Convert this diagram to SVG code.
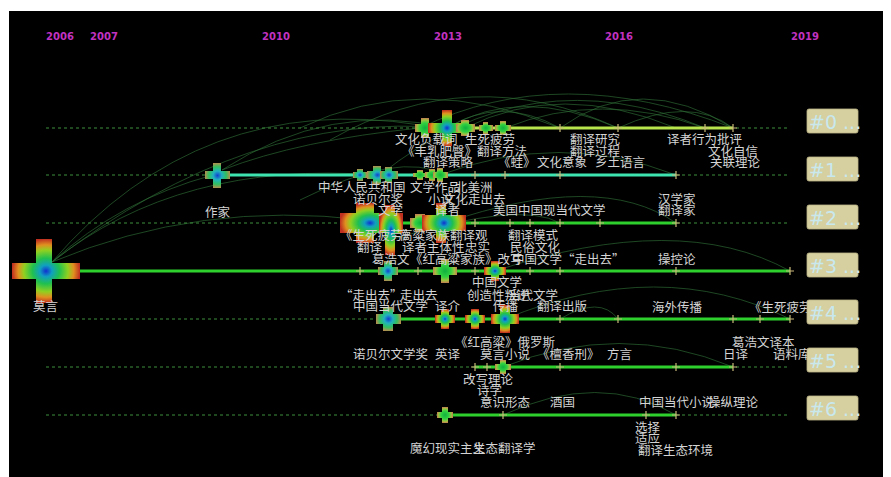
<svg xmlns="http://www.w3.org/2000/svg" width="891" height="477" viewBox="0 0 891 477">
<defs>
<radialGradient id="heat" cx="0.5" cy="0.5" r="0.5">
<stop offset="0" stop-color="#1030d0"/>
<stop offset="0.18" stop-color="#10a0c0"/>
<stop offset="0.4" stop-color="#20c050"/>
<stop offset="0.65" stop-color="#90d020"/>
<stop offset="0.82" stop-color="#e09020"/>
<stop offset="1" stop-color="#c03020"/>
</radialGradient>
<radialGradient id="heat2" cx="0.5" cy="0.5" r="0.5">
<stop offset="0" stop-color="#10b040"/>
<stop offset="0.5" stop-color="#30d040"/>
<stop offset="0.8" stop-color="#a0c040"/>
<stop offset="1" stop-color="#c08050"/>
</radialGradient>
<radialGradient id="heat3" cx="0.5" cy="0.5" r="0.5">
<stop offset="0" stop-color="#1040d0"/>
<stop offset="0.35" stop-color="#20b0c0"/>
<stop offset="0.7" stop-color="#30c060"/>
<stop offset="1" stop-color="#b09050"/>
</radialGradient>
<style>
.lb{font-family:"Noto Sans CJK SC","Noto Sans",sans-serif;font-size:12.5px;fill:#d4d4d4}
.yr{font-family:"DejaVu Sans",sans-serif;font-weight:bold;font-size:10px;fill:#c032c0}
.dash{stroke:#3f8f3f;stroke-width:1;stroke-dasharray:3 3;fill:none}
.arc{fill:none;stroke:#2c6a34;stroke-width:0.9;opacity:0.75}
.tk{stroke:#c8b878;stroke-width:1.2;fill:none}
.hx{fill:url(#heat)}
.gx{fill:url(#heat2)}
.bx{fill:url(#heat3)}
.box{fill:#d6cf9f;stroke:#bdb488;stroke-width:0.8}
.bt{font-family:"DejaVu Sans",sans-serif;font-size:19px;fill:#c8e8ee}
.l0{stroke:#b8e44c;stroke-width:3}
.l1{stroke:#3ee4b0;stroke-width:3}
.lg{stroke:#2ed02e;stroke-width:3}
</style>
</defs>
<rect x="0" y="0" width="891" height="477" fill="#ffffff"/>
<rect x="9" y="11" width="874" height="466" fill="#000000"/>

<g id="years">
<text class="yr" x="60" y="40" text-anchor="middle">2006</text>
<text class="yr" x="104" y="40" text-anchor="middle">2007</text>
<text class="yr" x="276" y="40" text-anchor="middle">2010</text>
<text class="yr" x="448" y="40" text-anchor="middle">2013</text>
<text class="yr" x="619" y="40" text-anchor="middle">2016</text>
<text class="yr" x="805" y="40" text-anchor="middle">2019</text>
</g>

<g id="connectors">
<path class="arc" d="M52 262 Q200 90 420 125"/>
<path class="arc" d="M52 262 Q250 110 447 128"/>
<path class="arc" d="M52 262 Q180 160 377 175"/>
<path class="arc" d="M52 262 Q200 200 365 220"/>
<path class="arc" d="M52 262 Q120 200 213 175"/>
<path class="arc" d="M222 170 Q330 100 447 128"/>
<path class="arc" d="M222 170 Q300 140 420 128"/>
<path class="arc" d="M300 128 Q420 70 560 128"/>
<path class="arc" d="M330 140 Q470 60 618 128"/>
<path class="arc" d="M380 175 Q530 55 705 128"/>
<path class="arc" d="M420 128 Q560 60 733 128"/>
<path class="arc" d="M447 128 Q520 85 618 128"/>
<path class="arc" d="M447 128 Q500 95 560 128"/>
<path class="arc" d="M465 128 Q560 80 676 128"/>
<path class="arc" d="M505 128 Q600 90 705 128"/>
<path class="arc" d="M560 128 Q640 70 733 128"/>
<path class="arc" d="M618 128 Q690 95 733 128"/>
<path class="arc" d="M440 175 Q560 130 676 175"/>
<path class="arc" d="M445 223 Q600 170 676 223"/>
<path class="arc" d="M495 271 Q680 210 790 271"/>
<path class="arc" d="M505 319 Q660 255 790 319"/>
<path class="arc" d="M560 319 Q600 295 618 319"/>
<path class="arc" d="M503 367 Q620 320 733 367"/>
<path class="arc" d="M503 415 Q600 370 676 415"/>
<path class="arc" d="M390 240 Q520 200 560 223"/>
<path class="arc" d="M300 200 Q400 150 445 175"/>
</g>

<g id="timelines">
<line class="dash" x1="46" y1="128" x2="790" y2="128"/>
<line class="dash" x1="46" y1="175" x2="790" y2="175"/>
<line class="dash" x1="46" y1="223" x2="790" y2="223"/>
<line class="dash" x1="46" y1="271" x2="790" y2="271"/>
<line class="dash" x1="46" y1="319" x2="790" y2="319"/>
<line class="dash" x1="46" y1="367" x2="790" y2="367"/>
<line class="dash" x1="46" y1="415" x2="790" y2="415"/>
<line class="l0" x1="415" y1="128" x2="733" y2="128"/>
<line class="l1" x1="213" y1="175" x2="676" y2="175"/>
<line class="lg" x1="340" y1="223" x2="676" y2="223"/>
<line class="lg" x1="45" y1="271" x2="790" y2="271"/>
<line class="lg" x1="388" y1="319" x2="790" y2="319"/>
<line class="lg" x1="475" y1="367" x2="733" y2="367"/>
<line class="lg" x1="445" y1="415" x2="676" y2="415"/>
</g>

<g id="ticks">
<path class="tk" d="M560 124v8M556 128h8M618 124v8M614 128h8M705 124v8M701 128h8M733 124v8M729 128h8"/>
<path class="tk" d="M475 171v8M471 175h8M505 171v8M501 175h8M560 171v8M556 175h8M676 171v8M672 175h8"/>
<path class="tk" d="M475 219v8M471 223h8M510 219v8M506 223h8M530 219v8M526 223h8M560 219v8M556 223h8M600 219v8M596 223h8M676 219v8M672 223h8"/>
<path class="tk" d="M360 267v8M356 271h8M418 267v8M414 271h8M475 267v8M471 271h8M530 267v8M526 271h8M560 267v8M556 271h8M676 267v8M672 271h8M790 267v8M786 271h8"/>
<path class="tk" d="M560 315v8M556 319h8M618 315v8M614 319h8M733 315v8M729 319h8M760 315v8M756 319h8M790 315v8M786 319h8"/>
<path class="tk" d="M475 363v8M471 367h8M487 363v8M483 367h8M560 363v8M556 367h8M676 363v8M672 367h8M733 363v8M729 367h8"/>
<path class="tk" d="M503 411v8M499 415h8M646 411v8M642 415h8M676 411v8M672 415h8"/>
</g>

<g id="node-moyan"><path class="hx" d="M36 239h16v24h28v16h-28v24h-16v-24h-24v-16h24z"/></g>
<g id="node-zuojia"><path class="bx" d="M213 163h8v8h9v8h-9v9h-8v-9h-8v-8h8z"/></g>

<g id="nodes-c0">
<path class="gx" d="M421 118h8v6h6v8h-6v6h-8v-6h-6v-8h6z"/>
<path class="hx" d="M442 110h10v13h14v10h-14v13h-10v-13h-14v-10h14z"/>
<path class="gx" d="M461 120h8v4h6v8h-6v4h-8v-4h-5v-8h5z"/>
<path class="gx" d="M483 122h5v3h5v6h-5v3h-5v-3h-4v-6h4z"/>
<path class="gx" d="M500 121h6v4h5v6h-5v4h-6v-4h-5v-6h5z"/>
</g>
<g id="nodes-c1">
<path class="bx" d="M357 169h6v3h4v6h-4v3h-6v-3h-4v-6h4z"/>
<path class="bx" d="M373 166h8v5h7v8h-7v5h-8v-5h-6v-8h6z"/>
<path class="bx" d="M385 167h7v4h6v8h-6v4h-7v-4h-5v-8h5z"/>
<path class="gx" d="M417 170h6v3h4v4h-4v3h-6v-3h-4v-4h4z"/>
<path class="gx" d="M429 169h6v3h4v6h-4v3h-6v-3h-4v-6h4z"/>
<path class="gx" d="M437 168h6v4h5v6h-5v4h-6v-4h-4v-6h4z"/>
</g>
<g id="nodes-c2">
<path class="hx" d="M356 203h18v10h26v20h-26v10h-18v-10h-16v-20h16z"/>
<path class="hx" d="M385 205h10v8h8v20h-8v22h-10v-22h-6v-20h6z"/>
<path class="gx" d="M415 214h10v4h6v10h-6v4h-10v-4h-5v-10h5z"/>
<path class="hx" d="M436 203h10v12h20v16h-20v12h-10v-12h-14v-16h14z"/>
</g>
<g id="nodes-c3">
<path class="bx" d="M384 261h8v6h6v8h-6v6h-8v-6h-6v-8h6z"/>
<path class="gx" d="M441 259h8v8h8v8h-8v8h-8v-8h-8v-8h8z"/>
<path class="hx" d="M491 261h8v6h7v8h-7v6h-8v-6h-7v-8h7z"/>
</g>
<g id="nodes-c4">
<path class="bx" d="M383 307h10v7h8v10h-8v7h-10v-7h-7v-10h7z"/>
<path class="hx" d="M441 309h8v6h6v8h-6v6h-8v-6h-6v-8h6z"/>
<path class="hx" d="M471 309h8v6h6v8h-6v6h-8v-6h-6v-8h6z"/>
<path class="hx" d="M500 305h10v9h9v10h-9v9h-10v-9h-9v-10h9z"/>
</g>
<g id="nodes-c5">
<path class="gx" d="M500 360h6v4h5v6h-5v4h-6v-4h-5v-6h5z"/>
</g>
<g id="nodes-c6">
<path class="gx" d="M442 407h6v5h5v6h-5v5h-6v-5h-5v-6h5z"/>
</g>

<g id="labels">
<text class="lb" x="395" y="144">文化负载词</text>
<text class="lb" x="465" y="144">生死疲劳</text>
<text class="lb" x="402" y="156">《丰乳肥臀》翻译方法</text>
<text class="lb" x="423" y="167">翻译策略</text>
<text class="lb" x="498" y="167">《蛙》</text>
<text class="lb" x="537" y="167">文化意象</text>
<text class="lb" x="595" y="167">乡土语言</text>
<text class="lb" x="570" y="144">翻译研究</text>
<text class="lb" x="570" y="156">翻译过程</text>
<text class="lb" x="667" y="144">译者行为批评</text>
<text class="lb" x="708" y="156">文化自信</text>
<text class="lb" x="710" y="167">关联理论</text>

<text class="lb" x="318" y="192">中华人民共和国</text>
<text class="lb" x="410" y="192">文学作品</text>
<text class="lb" x="455" y="192">北美洲</text>
<text class="lb" x="353" y="204">诺贝尔奖</text>
<text class="lb" x="428" y="204">小说</text>
<text class="lb" x="443" y="204">文化走出去</text>
<text class="lb" x="378" y="215">文学</text>
<text class="lb" x="435" y="215">译者</text>
<text class="lb" x="493" y="215">美国中国现当代文学</text>
<text class="lb" x="205" y="217">作家</text>
<text class="lb" x="658" y="204">汉学家</text>
<text class="lb" x="658" y="215">翻译家</text>

<text class="lb" x="340" y="240">《生死疲劳》</text>
<text class="lb" x="400" y="240">高粱家族翻译观</text>
<text class="lb" x="508" y="240">翻译模式</text>
<text class="lb" x="357" y="252">翻译</text>
<text class="lb" x="402" y="252">译者主体性</text>
<text class="lb" x="465" y="252">忠实</text>
<text class="lb" x="510" y="252">民俗文化</text>
<text class="lb" x="372" y="264">葛浩文</text>
<text class="lb" x="410" y="264">《红高粱家族》改写</text>
<text class="lb" x="512" y="264">中国文学“走出去”</text>
<text class="lb" x="658" y="264">操控论</text>

<text class="lb" x="33" y="311">莫言</text>
<text class="lb" x="472" y="287">中国文学</text>
<text class="lb" x="340" y="300">“走出去”</text>
<text class="lb" x="400" y="300">走出去</text>
<text class="lb" x="467" y="300">创造性叛逆</text>
<text class="lb" x="508" y="300">当代文学</text>
<text class="lb" x="353" y="311">中国当代文学</text>
<text class="lb" x="435" y="311">译介</text>
<text class="lb" x="493" y="311">传播</text>
<text class="lb" x="537" y="311">翻译出版</text>
<text class="lb" x="652" y="312">海外传播</text>
<text class="lb" x="749" y="312">《生死疲劳》英译</text>

<text class="lb" x="455" y="347">《红高粱》俄罗斯</text>
<text class="lb" x="353" y="359">诺贝尔文学奖</text>
<text class="lb" x="435" y="359">英译</text>
<text class="lb" x="480" y="359">莫言小说</text>
<text class="lb" x="537" y="359">《檀香刑》</text>
<text class="lb" x="607" y="359">方言</text>
<text class="lb" x="732" y="347">葛浩文译本</text>
<text class="lb" x="723" y="359">日译</text>
<text class="lb" x="773" y="359">语料库</text>

<text class="lb" x="463" y="384">改写理论</text>
<text class="lb" x="477" y="395">诗学</text>
<text class="lb" x="480" y="407">意识形态</text>
<text class="lb" x="550" y="407">酒国</text>
<text class="lb" x="639" y="407">中国当代小说</text>
<text class="lb" x="708" y="407">操纵理论</text>

<text class="lb" x="635" y="432">选择</text>
<text class="lb" x="635" y="443">适应</text>
<text class="lb" x="638" y="455">翻译生态环境</text>
<text class="lb" x="410" y="453">魔幻现实主义</text>
<text class="lb" x="473" y="453">生态翻译学</text>
</g>

<g id="cluster-0"><rect class="box" x="807" y="109" width="51" height="24" rx="2"/><text class="bt" x="809" y="129">#0 ...</text></g>
<g id="cluster-1"><rect class="box" x="807" y="157" width="51" height="24" rx="2"/><text class="bt" x="809" y="177">#1 ...</text></g>
<g id="cluster-2"><rect class="box" x="807" y="205" width="51" height="24" rx="2"/><text class="bt" x="809" y="225">#2 ...</text></g>
<g id="cluster-3"><rect class="box" x="807" y="253" width="51" height="24" rx="2"/><text class="bt" x="809" y="273">#3 ...</text></g>
<g id="cluster-4"><rect class="box" x="807" y="300" width="51" height="24" rx="2"/><text class="bt" x="809" y="320">#4 ...</text></g>
<g id="cluster-5"><rect class="box" x="807" y="348" width="51" height="24" rx="2"/><text class="bt" x="809" y="368">#5 ...</text></g>
<g id="cluster-6"><rect class="box" x="807" y="396" width="51" height="24" rx="2"/><text class="bt" x="809" y="416">#6 ...</text></g>
</svg>
